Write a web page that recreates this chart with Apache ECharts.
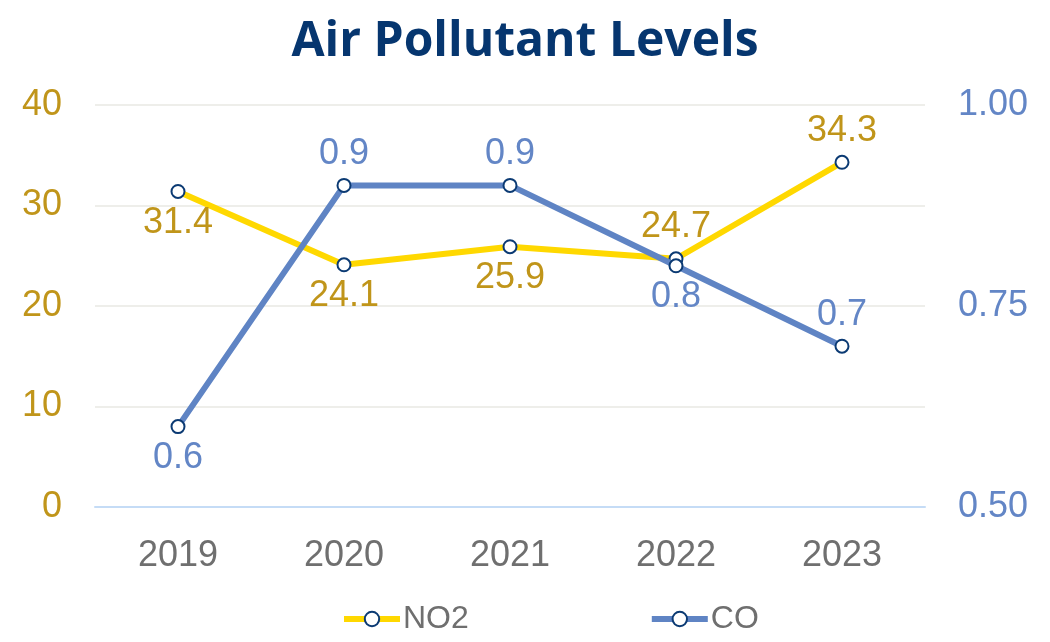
<!DOCTYPE html>
<html>
<head>
<meta charset="utf-8">
<script src="https://cdn.jsdelivr.net/npm/echarts@6/dist/echarts.min.js"></script>
<style>
  html, body { margin: 0; padding: 0; background: #fff; }
  #chart { width: 1050px; height: 642px; }
</style>
</head>
<body>
<div id="chart"></div>
<script>
// data
var years = ['2019', '2020', '2021', '2022', '2023'];
var no2 = [31.4, 24.1, 25.9, 24.7, 34.3];
var co = [0.6, 0.9, 0.9, 0.8, 0.7];
var no2LabelPos = ['bottom', 'bottom', 'bottom', 'top', 'top'];
var coLabelPos = ['bottom', 'top', 'top', 'bottom', 'top'];

var gold = '#C0951A';
var blue = '#6386C6';
var font = 'Liberation Sans';

var myChart = echarts.init(document.getElementById('chart'));

var option = {
  animation: false,
  title: {
    text: 'Air Pollutant Levels',
    left: 'center',
    top: 13,
    textStyle: { fontFamily: 'Open Sans', fontWeight: 'bold', fontSize: 48, color: '#06366F' }
  },
  legend: {
    bottom: 2,
    left: 336,
    itemGap: 180,
    itemWidth: 56,
    itemHeight: 18,
    lineStyle: { width: 6 },
    textStyle: { fontFamily: font, fontSize: 32, color: '#6F6F6F', padding: [0, 0, 0, -2] },
    data: ['NO2', 'CO']
  },
  grid: { left: 95, right: 125, top: 105, bottom: 135 },
  xAxis: {
    type: 'category',
    data: years,
    axisTick: { show: false },
    axisLine: { lineStyle: { color: '#C5DCF6', width: 2 } },
    axisLabel: { fontFamily: font, fontSize: 36, color: '#6F6F6F', margin: 31 }
  },
  yAxis: [{
    type: 'value',
    min: 0, max: 40, interval: 10,
    axisLine: { show: false },
    axisTick: { show: false },
    splitLine: { lineStyle: { color: '#EEEEEA', width: 2 } },
    axisLabel: { fontFamily: font, fontSize: 36, color: gold, margin: 33 }
  }, {
    type: 'value',
    min: 0.5, max: 1.0, interval: 0.25,
    axisLine: { show: false },
    axisTick: { show: false },
    splitLine: { show: false },
    axisLabel: {
      fontFamily: font, fontSize: 36, color: blue, margin: 33,
      formatter: function (v) { return v.toFixed(2); }
    }
  }],
  series: [{
    name: 'NO2',
    type: 'line',
    yAxisIndex: 0,
    data: no2.map(function (v, i) {
      return { value: v, label: { position: no2LabelPos[i] } };
    }),
    symbol: 'circle',
    symbolSize: 13,
    lineStyle: { color: '#FFD800', width: 6 },
    itemStyle: { color: '#fff', borderColor: '#0B3A73', borderWidth: 2 },
    label: {
      show: true, fontFamily: font, fontSize: 36, color: gold, distance: 6,
      formatter: function (p) { return p.value.toFixed(1); }
    },
    z: 3
  }, {
    name: 'CO',
    type: 'line',
    yAxisIndex: 1,
    data: co.map(function (v, i) {
      return { value: v, label: { position: coLabelPos[i] } };
    }),
    symbol: 'circle',
    symbolSize: 13,
    lineStyle: { color: '#5F84C4', width: 6 },
    itemStyle: { color: '#fff', borderColor: '#0B3A73', borderWidth: 2 },
    label: {
      show: true, fontFamily: font, fontSize: 36, color: blue, distance: 6,
      formatter: function (p) { return p.value.toFixed(1); }
    },
    z: 4
  }]
};

myChart.setOption(option);
</script>
</body>
</html>
